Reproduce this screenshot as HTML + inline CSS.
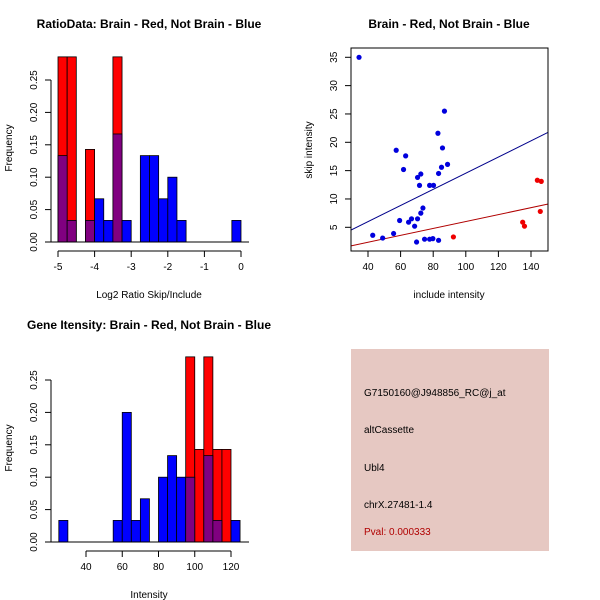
<!DOCTYPE html>
<html><head><meta charset="utf-8"><style>body{margin:0;background:#fff}svg{display:block;font-family:"Liberation Sans",sans-serif}</style></head>
<body>
<svg id="s" width="600" height="600" viewBox="0 0 600 600">
<rect width="600" height="600" fill="#fff"/>
<text x="149" y="28" font-size="12" font-weight="bold" text-anchor="middle">RatioData: Brain - Red, Not Brain - Blue</text>
<text x="449" y="28" font-size="12" font-weight="bold" text-anchor="middle">Brain - Red, Not Brain - Blue</text>
<text x="149" y="329" font-size="12" font-weight="bold" text-anchor="middle">Gene Itensity: Brain - Red, Not Brain - Blue</text>
<text x="149" y="298" font-size="10" text-anchor="middle">Log2 Ratio Skip/Include</text>
<text x="149" y="598" font-size="10" text-anchor="middle">Intensity</text>
<text x="449" y="298" font-size="10" text-anchor="middle">include intensity</text>
<text transform="translate(12,148) rotate(-90)" font-size="10" text-anchor="middle">Frequency</text>
<text transform="translate(12,448) rotate(-90)" font-size="10" text-anchor="middle">Frequency</text>
<text transform="translate(312,150) rotate(-90)" font-size="10" text-anchor="middle">skip intensity</text>
<g>
<rect x="351" y="349" width="198" height="202" fill="#e6c8c2"/>
<text x="364" y="396" font-size="10">G7150160@J948856_RC@j_at</text>
<text x="364" y="433" font-size="10">altCassette</text>
<text x="364" y="471" font-size="10">Ubl4</text>
<text x="364" y="508" font-size="10">chrX.27481-1.4</text>
<text x="364" y="535" font-size="10" fill="#b00000">Pval: 0.000333</text>
</g>
</svg>
<script>
// Ratio histogram data (bin starts, width 0.25)
const ratioBins=[-5,-4.75,-4.5,-4.25,-4,-3.75,-3.5,-3.25,-3,-2.75,-2.5,-2.25,-2,-1.75,-1.5,-1.25,-1,-0.75,-0.5,-0.25];
const ratioRed=[0.2857,0.2857,0,0.1429,0,0,0.2857,0,0,0,0,0,0,0,0,0,0,0,0,0];
const ratioBlue=[0.1333,0.0333,0,0.0333,0.0667,0.0333,0.1667,0.0333,0,0.1333,0.1333,0.0667,0.1,0.0333,0,0,0,0,0,0.0333];
const ratioXTicks=[-5,-4,-3,-2,-1,0];
const freqTicks=["0.00","0.05","0.10","0.15","0.20","0.25"];
// Intensity histogram data (bin starts, width 5)
const intBins=[25,30,35,40,45,50,55,60,65,70,75,80,85,90,95,100,105,110,115,120];
const intRed=[0,0,0,0,0,0,0,0,0,0,0,0,0,0,0.2857,0.1429,0.2857,0.1429,0.1429,0];
const intBlue=[0.0333,0,0,0,0,0,0.0333,0.2,0.0333,0.0667,0,0.1,0.1333,0.1,0.1,0,0.1333,0.0333,0,0.0333];
const intXTicks=[40,60,80,100,120];
// Scatter data
const blueX=[34.5,42.9,49,55.7,59.4,57.3,63.1,61.8,64.9,66.7,68.6,69.8,70.4,70.4,72.4,71.6,72.4,73.7,74.7,77.8,77.8,79.8,80.2,83.3,83.3,82.9,85.7,85.1,86.9,88.8];
const blueY=[35,3.6,3.1,3.9,6.2,18.6,17.6,15.2,5.9,6.5,5.2,2.4,6.5,13.8,14.4,12.4,7.5,8.4,2.9,2.9,12.4,3.0,12.4,2.7,14.5,21.6,19.0,15.6,25.5,16.1];
const redX=[92.4,134.9,136,143.9,146.3,145.7];
const redY=[3.3,5.9,5.2,13.3,13.1,7.8];
const blueFit=[0.29,0.1426];
const redFit=[-0.08,0.061];
const scXTicks=[40,60,80,100,120,140];
const scYTicks=[5,10,15,20,25,30,35];

const S=document.getElementById('s'),NS='http://www.w3.org/2000/svg';
function mk(t,a,p){const e=document.createElementNS(NS,t);for(const k in a)e.setAttribute(k,a[k]);(p||S).appendChild(e);return e;}

function hist(bins,w,red,blue,x0,x1,px0,px1,y0px,xticks,axisY,name){
  const g=mk('g',{});
  
  
  const sx=v=>px0+(v-x0)/(x1-x0)*(px1-px0);
  const sy=v=>y0px-v/0.25*162;
  for(let i=0;i<bins.length;i++){
    if(red[i]>0){const r=mk('rect',{x:sx(bins[i]),y:sy(red[i]),width:sx(bins[i]+w)-sx(bins[i]),height:y0px-sy(red[i]),fill:'#ff0000',stroke:'#000','stroke-width':0.8},g);
      
      }
  }
  for(let i=0;i<bins.length;i++){
    if(blue[i]>0){const b=mk('rect',{x:sx(bins[i]),y:sy(blue[i]),width:sx(bins[i]+w)-sx(bins[i]),height:y0px-sy(blue[i]),fill:red[i]>0?'#800080':'#0000ff',stroke:'#000','stroke-width':0.8},g);
      
      }
  }
  mk('line',{x1:51,x2:249,y1:y0px,y2:y0px,stroke:'#000'},g);
  mk('line',{x1:51,x2:51,y1:sy(0),y2:sy(0.25),stroke:'#000'},g);
  freqTicks.forEach(t=>{const y=sy(+t);mk('line',{x1:45,x2:51,y1:y,y2:y,stroke:'#000'},g);
    const tx=mk('text',{transform:`translate(37,${y}) rotate(-90)`,'font-size':10,'text-anchor':'middle'},g);tx.textContent=t;
    
    });
  mk('line',{x1:sx(xticks[0]),x2:sx(xticks[xticks.length-1]),y1:axisY,y2:axisY,stroke:'#000'},g);
  xticks.forEach(t=>{const x=sx(t);mk('line',{x1:x,x2:x,y1:axisY,y2:axisY+6,stroke:'#000'},g);
    const tx=mk('text',{x:x,y:axisY+19,'font-size':10,'text-anchor':'middle'},g);tx.textContent=t;
    
    });
}
hist(ratioBins,0.25,ratioRed,ratioBlue,-5,0,58,241,242,ratioXTicks,251,'ratio-histogram');
hist(intBins,5,intRed,intBlue,40,120,86,231,542,intXTicks,551,'intensity-histogram');

// scatter
const sg=mk('g',{});


const X=v=>368+(v-40)*1.63, Y=v=>227.3-(v-5)*5.667;
const clip=mk('clipPath',{id:'cp'},sg);mk('rect',{x:351,y:48,width:197,height:203},clip);
function fit(f,c,n){const l=mk('line',{x1:X(29.6),y1:Y(f[0]+f[1]*29.6),x2:X(150.2),y2:Y(f[0]+f[1]*150.2),stroke:c,'stroke-width':1,'clip-path':'url(#cp)'},sg);
  
  }
fit(blueFit,'#00008b','blue-fit-line');fit(redFit,'#b00000','red-fit-line');
blueX.forEach((x,i)=>{const c=mk('circle',{cx:X(x),cy:Y(blueY[i]),r:2.6,fill:'#0000dd'},sg);
  
  });
redX.forEach((x,i)=>{const c=mk('circle',{cx:X(x),cy:Y(redY[i]),r:2.6,fill:'#ee0000'},sg);
  
  });
mk('rect',{x:351,y:48,width:197,height:203,fill:'none',stroke:'#000'},sg);
scXTicks.forEach(t=>{const x=X(t);mk('line',{x1:x,x2:x,y1:251,y2:257,stroke:'#000'},sg);
  const tx=mk('text',{x:x,y:270,'font-size':10,'text-anchor':'middle'},sg);tx.textContent=t;
  
  });
scYTicks.forEach(t=>{const y=Y(t);mk('line',{x1:345,x2:351,y1:y,y2:y,stroke:'#000'},sg);
  const tx=mk('text',{transform:`translate(337,${y}) rotate(-90)`,'font-size':10,'text-anchor':'middle'},sg);tx.textContent=t;
  
  });
</script>
</body></html>
